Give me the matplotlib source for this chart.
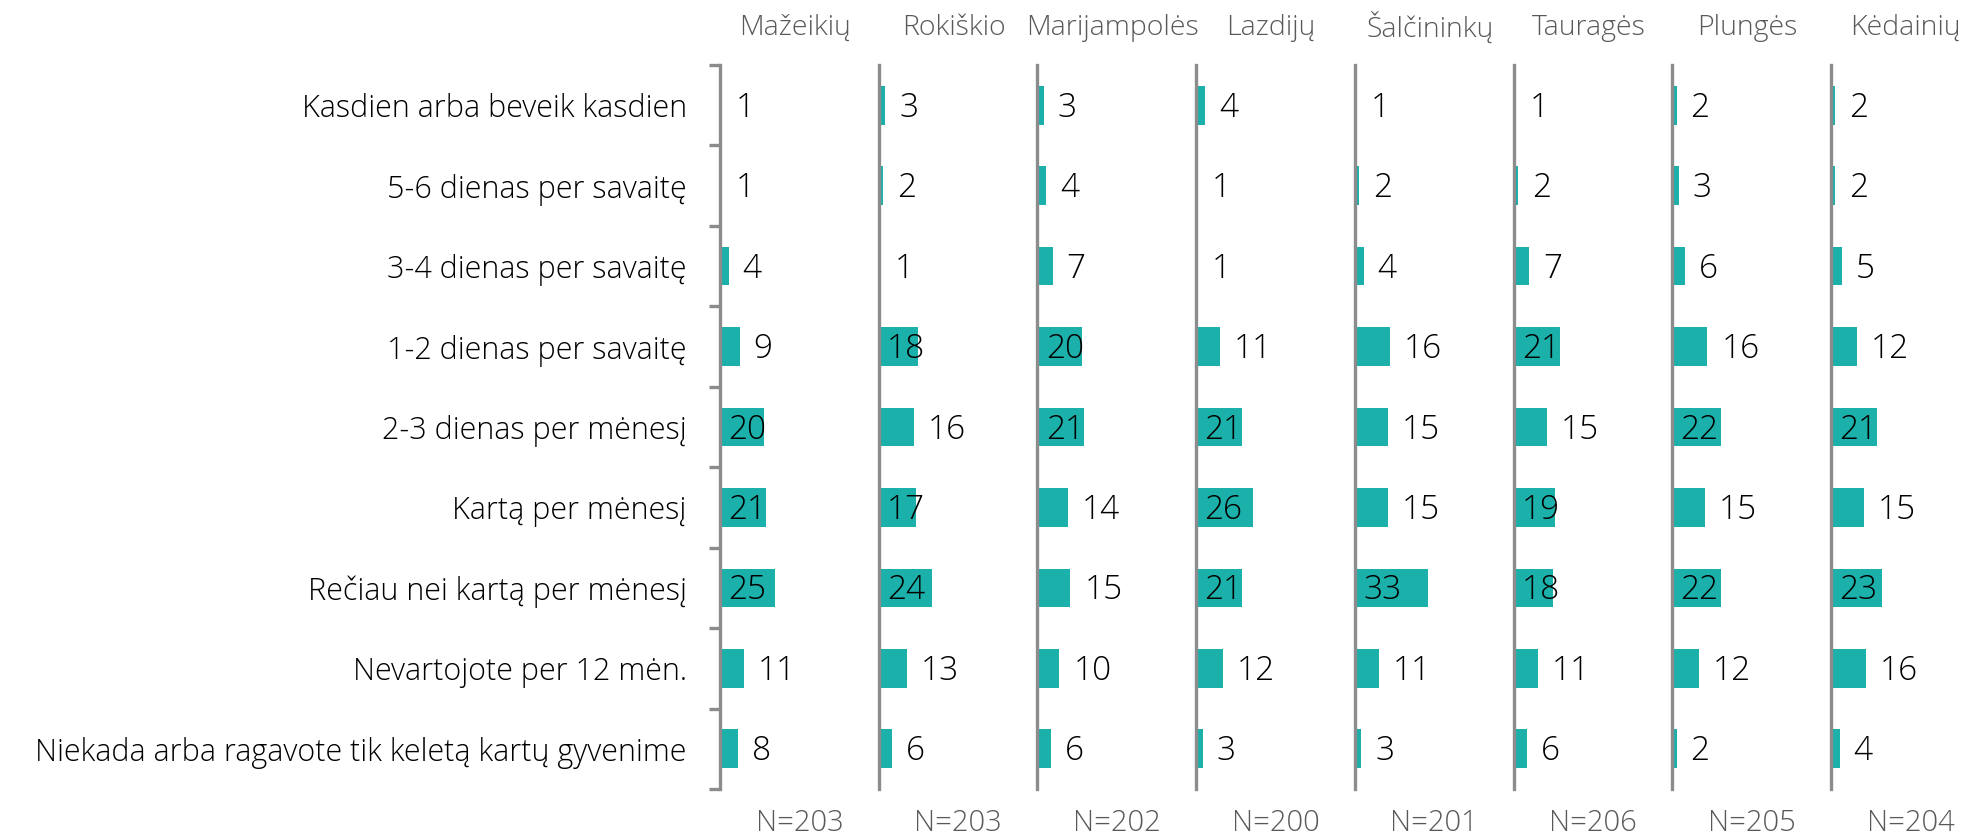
import matplotlib
matplotlib.use("Agg")
from matplotlib import pyplot as plt

categories = [
    "Kasdien arba beveik kasdien",
    "5-6 dienas per savaitę",
    "3-4 dienas per savaitę",
    "1-2 dienas per savaitę",
    "2-3 dienas per mėnesį",
    "Kartą per mėnesį",
    "Rečiau nei kartą per mėnesį",
    "Nevartojote per 12 mėn.",
    "Niekada arba ragavote tik keletą kartų gyvenime",
]

regions = ["Mažeikių", "Rokiškio", "Marijampolės", "Lazdijų",
           "Šalčininkų", "Tauragės", "Plungės", "Kėdainių"]

mazeikiu = [1, 1, 4, 9, 20, 21, 25, 11, 8]
rokiskio = [3, 2, 1, 18, 16, 17, 24, 13, 6]
marijampoles = [3, 4, 7, 20, 21, 14, 15, 10, 6]
lazdiju = [4, 1, 1, 11, 21, 26, 21, 12, 3]
salcininku = [1, 2, 4, 16, 15, 15, 33, 11, 3]
taurages = [1, 2, 7, 21, 15, 19, 18, 11, 6]
plunges = [2, 3, 6, 16, 22, 15, 22, 12, 2]
kedainiu = [2, 2, 5, 12, 21, 15, 23, 16, 4]

sample_sizes = [203, 203, 202, 200, 201, 206, 205, 204]

series = [mazeikiu, rokiskio, marijampoles, lazdiju,
          salcininku, taurages, plunges, kedainiu]

plt.rcParams['font.family'] = ['Open Sans', 'DejaVu Sans']
plt.rcParams['font.weight'] = 'light'

bar_color = '#1cb0ab'
axis_color = '#8c8c8c'
gray_text = '#595959'
dark_text = '#000000'

W, H = 1964, 836
fig = plt.figure(figsize=(W / 100, H / 100), dpi=100)

# panel geometry in pixels
x0, step, pw = 720, 158.7, 150
top, bottom = 65, 789
ypos = list(range(len(categories)))

for i, (name, vals, n) in enumerate(zip(regions, series, sample_sizes)):
    left = x0 + i * step
    ax = fig.add_axes([left / W, (H - bottom) / H, pw / W, (bottom - top) / H])
    ax.barh(ypos, vals, height=0.48, color=bar_color)
    ax.set_xlim(0, 68)
    ax.set_ylim(len(categories) - 0.5, -0.5)

    for sp in ['top', 'right', 'bottom']:
        ax.spines[sp].set_visible(False)
    ax.spines['left'].set_color(axis_color)
    ax.spines['left'].set_linewidth(2.4)
    ax.set_xticks([])

    # data labels: inside base for longer bars, outside end otherwise
    for y, v in zip(ypos, vals):
        if v >= 17:
            ax.annotate(str(v), (0, y), xytext=(6, -2), textcoords='offset points',
                        ha='left', va='center', fontsize=24, color=dark_text)
        else:
            ax.annotate(str(v), (v, y), xytext=(10, -2), textcoords='offset points',
                        ha='left', va='center', fontsize=24, color=dark_text)

    ax.text(0.5, 1.0 + 37 / (bottom - top), name, transform=ax.transAxes,
            ha='center', va='center', fontsize=20.5, color=gray_text)
    ax.text(0.53, -34 / (bottom - top), "N=%d" % n, transform=ax.transAxes,
            ha='center', va='center', fontsize=21, color=gray_text)

    if i == 0:
        ax.set_yticks(ypos)
        ax.set_yticklabels(categories, fontsize=22, color=dark_text)
        ax.tick_params(axis='y', which='major', length=0, pad=24)
        ax.set_yticks([y - 0.5 for y in ypos] + [len(categories) - 0.5], minor=True)
        ax.tick_params(axis='y', which='minor', length=8, width=2.4,
                       color=axis_color, direction='out')
    else:
        ax.set_yticks([])

fig.savefig('out.png', dpi=100)
